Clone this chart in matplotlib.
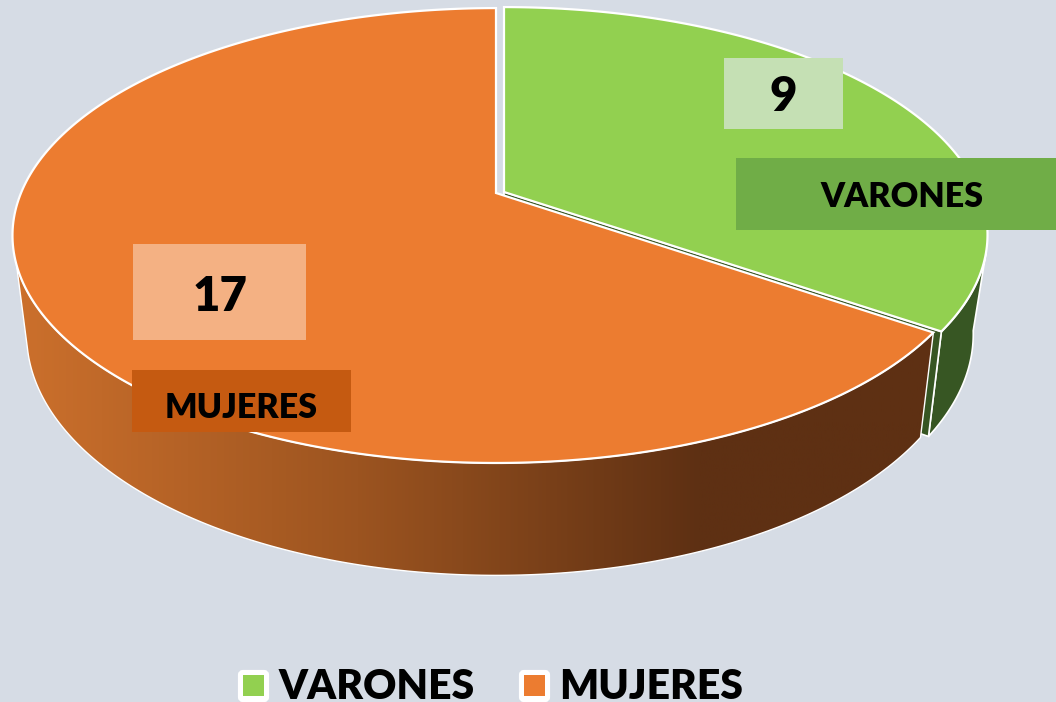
import numpy as np
import matplotlib
matplotlib.use("Agg")
import matplotlib.pyplot as plt
from matplotlib.colors import LinearSegmentedColormap
from matplotlib.patches import FancyBboxPatch, Polygon, Rectangle

categories = ["VARONES", "MUJERES"]
values = [9, 17]

BG = "#D6DCE5"
TOP_COLORS = ["#92D050", "#EC7C30"]
DARK_GREEN = "#375623"

# perspective of the pie, fitted by eye (top face and bottom ring)
K = 0.187
TOP_A, TOP_B = 219.5, 475
LOW_A, LOW_B, LOW_DY = 232, 461, 97


def project(t, x0, y0, a, b):
    x = np.cos(t)
    y = np.sin(t)
    w = 1 + K * y
    return x0 + b * x / w, y0 - a * y / w


def top_ring(t, x0, y0):
    return np.column_stack(project(t, x0, y0, TOP_A, TOP_B))


def low_ring(t, x0, y0):
    return np.column_stack(project(t, x0, y0 + LOW_DY, LOW_A, LOW_B))


fig = plt.figure(figsize=(10.56, 7.02), dpi=100, facecolor=BG)
ax = fig.add_axes([0, 0, 1, 1])
ax.set_xlim(0, 1056)
ax.set_ylim(702, 0)
ax.axis("off")

# slice angles from the values, clockwise from 12 o'clock
split = np.pi / 2 - 2 * np.pi * values[0] / sum(values)
green_arc = np.linspace(np.pi / 2, split, 150)
orange_arc = np.linspace(split, split - 2 * np.pi * values[1] / sum(values), 250)

GREEN_X, GREEN_Y = 504, 192
ORANGE_X, ORANGE_Y = 496, 193

# green outer wall
top_t = np.linspace(np.radians(-15), split, 50)
low_t = np.linspace(np.radians(-10), split, 50)
wall = np.vstack([top_ring(top_t, GREEN_X, GREEN_Y), low_ring(low_t, GREEN_X, GREEN_Y)[::-1]])
ax.add_patch(Polygon(wall, fc=DARK_GREEN, ec="white", lw=1.2, zorder=2))

# green cut face, mostly hidden by the orange slice
apex_top = np.array([GREEN_X, GREEN_Y])
apex_low = np.array([GREEN_X, GREEN_Y + LOW_DY])
cut = np.array([apex_top, top_ring(np.array([split]), GREEN_X, GREEN_Y)[0],
                low_ring(np.array([split]), GREEN_X, GREEN_Y)[0], apex_low])
ax.add_patch(Polygon(cut, fc=DARK_GREEN, ec="white", lw=1.2, zorder=2))

# orange outer wall with horizontal gradient
top_t = np.linspace(split, np.radians(-162), 200)
low_t = np.linspace(split, np.radians(-166), 200)
wall = np.vstack([top_ring(top_t, ORANGE_X, ORANGE_Y), low_ring(low_t, ORANGE_X, ORANGE_Y)[::-1]])
wall_patch = Polygon(wall, fc="none", ec="white", lw=1.0, zorder=4)
ax.add_patch(wall_patch)
cmap = LinearSegmentedColormap.from_list(
    "wall", [(0, "#CC702C"), (0.37, "#9C5420"), (0.74, "#5E3013"), (1, "#5E3013")])
im = ax.imshow(np.linspace(0, 1, 512)[None, :], cmap=cmap, extent=(15, 940, 600, 250),
               aspect="auto", zorder=3)
im.set_clip_path(wall_patch)
ax.set_xlim(0, 1056)
ax.set_ylim(702, 0)

# top faces
orange_top = np.vstack([[ORANGE_X, ORANGE_Y], top_ring(orange_arc, ORANGE_X, ORANGE_Y)])
ax.add_patch(Polygon(orange_top, fc=TOP_COLORS[1], ec="white", lw=1.6, joinstyle="miter", zorder=5))
green_top = np.vstack([apex_top, top_ring(green_arc, GREEN_X, GREEN_Y)])
ax.add_patch(Polygon(green_top, fc=TOP_COLORS[0], ec="white", lw=1.6, joinstyle="miter", zorder=6))

FONT = "Lato"

# data labels
label_boxes = [
    (str(values[0]), 724, 58, 119, 71, "#C5E0B4", 34),
    (categories[0], 736, 158, 330, 72, "#70AD47", 24.5),
    (str(values[1]), 133, 244, 173, 96, "#F4B183", 34),
    (categories[1], 132, 370, 219, 62, "#C55A11", 24.5),
]
for txt, x, y, w, h, col, size in label_boxes:
    ax.add_patch(Rectangle((x, y), w, h, fc=col, ec="none", zorder=7))
text_pos = [(783, 97), (902, 197), (220, 297), (241, 408)]
for (txt, *_, size), (tx, ty) in zip(label_boxes, text_pos):
    ax.text(tx, ty, txt, family=FONT, weight="heavy", fontsize=size, color="black",
            ha="center", va="center", zorder=8)

# legend
legend_x = [238, 519]
text_x = [279, 559]
for i, name in enumerate(categories):
    ax.add_patch(FancyBboxPatch((legend_x[i] + 2, 672), 27, 28, boxstyle="round,pad=0,rounding_size=3",
                                fc="white", ec="white", lw=3, zorder=7))
    ax.add_patch(Rectangle((legend_x[i] + 5, 675), 21, 21, fc=TOP_COLORS[i], ec="none", zorder=8))
    ax.text(text_x[i], 699, name, family=FONT, weight="heavy", fontsize=29.4, color="black",
            ha="left", va="baseline", zorder=8)

fig.savefig("out.png", dpi=100, facecolor=BG)
